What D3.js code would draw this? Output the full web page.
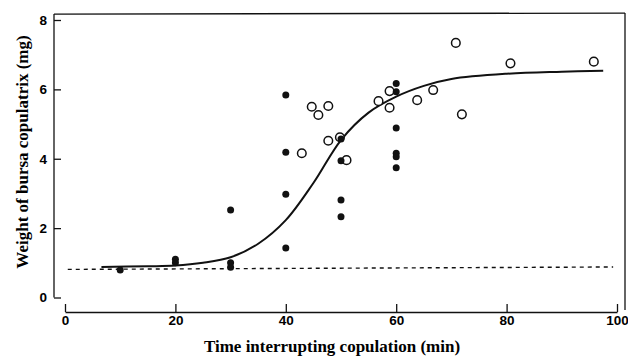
<!DOCTYPE html>
<html>
<head>
<meta charset="utf-8">
<script src="https://cdnjs.cloudflare.com/ajax/libs/d3/7.8.5/d3.min.js"></script>
<style>
  body { margin: 0; background: #fff; }
  .tick text { font-family: "Liberation Sans", Arial, sans-serif; font-weight: bold; font-size: 13.5px; }
  .title { font-family: "Liberation Serif", "Times New Roman", serif; font-weight: bold; font-size: 17px; }
</style>
</head>
<body>
<div id="chart"></div>
<script>
// filled circles: [time (min), weight (mg)]
const filledPts = [
  [10, 0.79], [20, 1.1], [20, 1.0], [30, 2.52], [30, 1.0], [30, 0.87],
  [40, 5.84], [40, 4.19], [40, 2.98], [40, 1.43],
  [50, 4.57], [50, 3.94], [50, 2.81], [50, 2.33],
  [60, 6.17], [60, 5.93], [60, 4.89], [60, 4.16], [60, 4.06], [60, 3.74]
];
// open circles
const openPts = [
  [42.9, 4.16], [44.7, 5.5], [45.9, 5.26], [47.7, 5.52], [47.7, 4.52],
  [49.8, 4.62], [51.0, 3.96], [56.8, 5.66], [58.8, 5.95], [58.8, 5.47],
  [63.8, 5.69], [66.7, 5.98], [70.8, 7.34], [71.9, 5.28], [80.7, 6.75], [95.8, 6.8]
];
// fitted curve
const curvePts = [
  [6.6, 0.88], [15, 0.9], [20, 0.92], [25, 1.0], [30, 1.16], [35, 1.55],
  [40, 2.23], [45, 3.3], [50, 4.54], [55, 5.33], [60, 5.79], [65, 6.1],
  [70, 6.3], [80, 6.45], [90, 6.51], [97.5, 6.54]
];
// dashed baseline (control weight)
const basePts = [[0.5, 0.81], [99.3, 0.88]];
const xTicks = [0, 20, 40, 60, 80, 100];
const yTicks = [0, 2, 4, 6, 8];

const width = 628, height = 358;
const svg = d3.select("#chart").append("svg")
  .attr("width", width).attr("height", height);

const x = d3.scaleLinear().domain([0, 100]).range([65, 617]);
const y = d3.scaleLinear().domain([0, 8]).range([297.5, 20]);

// frame: left axis line, top and right borders
const frame = svg.append("g").attr("stroke", "#111").attr("fill", "none").attr("stroke-width", 1.3);
frame.append("line").attr("x1", 54).attr("x2", 54).attr("y1", y(0)).attr("y2", y(8.17));
frame.append("line").attr("x1", 54).attr("x2", 625).attr("y1", y(8.17)).attr("y2", y(8.2));
frame.append("line").attr("x1", 625).attr("x2", 625).attr("y1", y(8.2)).attr("y2", 310);

// y axis
const yAxis = svg.append("g")
  .attr("transform", "translate(54,0)")
  .call(d3.axisLeft(y).tickValues(yTicks).tickSize(-7).tickPadding(7));
yAxis.select(".domain").remove();
yAxis.selectAll("line").attr("stroke", "#111").attr("stroke-width", 1.3);

// x axis
const xAxis = svg.append("g")
  .attr("transform", "translate(0,312)")
  .call(d3.axisBottom(x).tickValues(xTicks).tickSize(-8).tickSizeOuter(0).tickPadding(3));
xAxis.select(".domain").attr("stroke", "#111").attr("stroke-width", 1.5);
xAxis.selectAll("line").attr("stroke", "#111").attr("stroke-width", 1.3);

// dashed baseline
svg.append("path")
  .datum(basePts)
  .attr("fill", "none").attr("stroke", "#111").attr("stroke-width", 1.4)
  .attr("stroke-dasharray", "4,4")
  .attr("d", d3.line().x(d => x(d[0])).y(d => y(d[1])));

// fitted curve
svg.append("path")
  .datum(curvePts)
  .attr("fill", "none").attr("stroke", "#111").attr("stroke-width", 2)
  .attr("d", d3.line().curve(d3.curveCatmullRom).x(d => x(d[0])).y(d => y(d[1])));

// open circles
svg.append("g").selectAll("circle")
  .data(openPts).join("circle")
  .attr("cx", d => x(d[0])).attr("cy", d => y(d[1])).attr("r", 4.3)
  .attr("fill", "#fff").attr("stroke", "#111").attr("stroke-width", 1.5);

// filled circles
svg.append("g").selectAll("circle")
  .data(filledPts).join("circle")
  .attr("cx", d => x(d[0])).attr("cy", d => y(d[1])).attr("r", 3.5)
  .attr("fill", "#111");

// axis titles
svg.append("text").attr("class", "title")
  .attr("x", 332).attr("y", 352).attr("text-anchor", "middle")
  .text("Time interrupting copulation (min)");
svg.append("text").attr("class", "title")
  .attr("transform", "translate(28,152) rotate(-90)")
  .attr("text-anchor", "middle")
  .text("Weight of bursa copulatrix (mg)");
</script>
</body>
</html>
